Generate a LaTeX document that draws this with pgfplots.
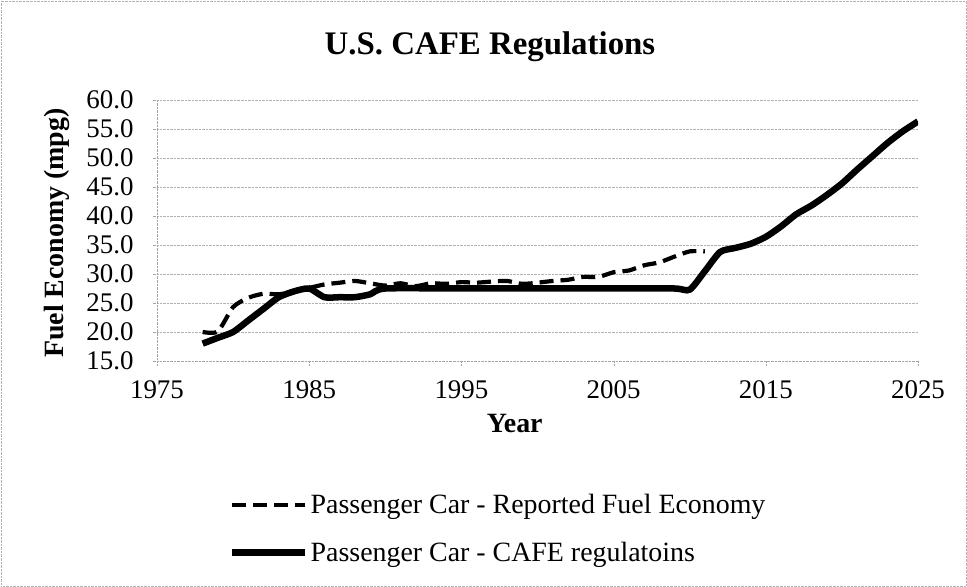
\documentclass[border=0pt]{standalone}
\usepackage{pgfplots}
\pgfplotsset{compat=1.18}
\usepackage{fontspec}
\setmainfont{Liberation Serif}

\begin{document}
\begin{tikzpicture}[x=1bp,y=1bp]
\useasboundingbox (-157,-226) rectangle (810,361);
\draw[gray!60, densely dotted] (-156,-225) rectangle (809,360);
\begin{axis}[
    scale only axis,
    width=761bp, height=261bp,
    at={(0,0)}, anchor=south west,
    xmin=1975, xmax=2025,
    ymin=15, ymax=60,
    xtick={1975,1985,...,2025},
    ytick={15,20,...,60},
    axis x line=bottom, axis y line=left,
    axis line style={gray!70, densely dotted, -},
    tick style={gray!70, densely dotted},
    tick align=outside,
    major tick length=4bp,
    ymajorgrids,
    grid style={gray!60, densely dotted},
    /pgf/number format/assume math mode=true,
    x tick label style={font=\fontsize{27}{30}\selectfont, yshift=-12bp,
      /pgf/number format/set thousands separator={}},
    y tick label style={font=\fontsize{27}{30}\selectfont, xshift=-16bp,
      /pgf/number format/.cd, fixed, fixed zerofill, precision=1},
    title={\textbf{U.S. CAFE Regulations}},
    title style={font=\fontsize{33}{38}\selectfont,
      at={(axis description cs:0.4376,1.153)}, anchor=base},
    xlabel={\textbf{Year}},
    ylabel={\textbf{Fuel Economy (mpg)}},
    xlabel style={font=\fontsize{28}{32}\selectfont,
      at={(axis description cs:0.470,-0.240)}, anchor=center},
    ylabel style={font=\fontsize{28}{32}\selectfont,
      at={(axis description cs:-0.132,0.49)}, anchor=center},
    legend style={at={(axis description cs:0.0946,-0.642)}, anchor=west, draw=none,
      inner sep=0pt, fill=none,
      font=\fontsize{28}{32}\selectfont, row sep=23bp,
      /tikz/every even column/.append style={column sep=0bp}},
    legend cell align=left,
    legend image code/.code={\draw[#1] (0bp,0bp) -- (73bp,0bp);},
]
\addplot[black, line width=4.2bp, dash pattern=on 14bp off 7bp, smooth, tension=0.4] coordinates {
(1978,20.0) (1979,20.1) (1980,24.3) (1981,25.9) (1982,26.6) (1983,26.5)
(1984,27.0) (1985,27.6) (1986,28.2) (1987,28.5) (1988,28.8) (1989,28.4)
(1990,28.0) (1991,28.4) (1992,27.9) (1993,28.4) (1994,28.3) (1995,28.6)
(1996,28.5) (1997,28.7) (1998,28.8) (1999,28.3) (2000,28.5) (2001,28.8)
(2002,29.0) (2003,29.5) (2004,29.5) (2005,30.3) (2006,30.6) (2007,31.5)
(2008,32.0) (2009,33.0) (2010,33.9) (2011,33.9)
};
\addlegendentry{Passenger Car - Reported Fuel Economy}
\addplot[black, line width=6.5bp, smooth, tension=0.4] coordinates {
(1978,18.0) (1979,19.0) (1980,20.0) (1981,22.0) (1982,24.0) (1983,26.0)
(1984,27.0) (1985,27.5) (1986,26.0) (1987,26.0) (1988,26.0) (1989,26.5)
(1990,27.5) (1995,27.5) (2000,27.5) (2005,27.5) (2009,27.5) (2010,27.3)
(2011,30.5) (2012,33.8) (2013,34.5) (2014,35.2) (2015,36.4) (2016,38.2)
(2017,40.3) (2018,41.8) (2019,43.6) (2020,45.6) (2021,48.0) (2022,50.3)
(2023,52.6) (2024,54.6) (2025,56.3)
};
\addlegendentry{Passenger Car - CAFE regulatoins}
\end{axis}
\end{tikzpicture}
\end{document}
